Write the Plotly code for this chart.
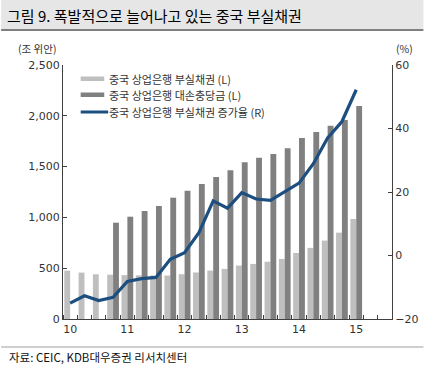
import plotly.graph_objects as go

# ---- data ----
quarters = ["10Q1","10Q2","10Q3","10Q4","11Q1","11Q2","11Q3","11Q4",
            "12Q1","12Q2","12Q3","12Q4","13Q1","13Q2","13Q3","13Q4",
            "14Q1","14Q2","14Q3","14Q4","15Q1"]
npl = [476, 457, 440, 436, 432, 430, 428, 428, 441, 458, 477, 493,
       526, 542, 564, 591, 650, 700, 772, 850, 984]
provisions = [None, None, None, 948, 1007, 1063, 1112, 1194, 1263, 1328,
              1397, 1463, 1542, 1587, 1624, 1680, 1781, 1840, 1902, 1958, 2096]
npl_growth = [-15.0, -12.7, -14.2, -13.2, -8.2, -7.3, -6.9, -1.2, 0.9, 7.2,
              17.2, 14.9, 19.8, 17.8, 17.4, 20.0, 22.8, 28.9, 37.0, 42.2, 52.2]
tick_labels = ["10", "11", "12", "13", "14", "15"]
tick_positions = [0, 4, 8, 12, 16, 20]

names = ["중국 상업은행 부실채권 (L)", "중국 상업은행 대손충당금 (L)",
         "중국 상업은행 부실채권 증가율 (R)"]

W, H = 430, 369
L, R, T, B = 63, 32, 65, 50
PW, PH = W - L - R, H - T - B

def px(x):
    return (x - L) / PW

def py(y):
    return (H - B - y) / PH

KR = "Noto Sans CJK KR"
NUM = "DejaVu Sans"
xs = list(range(len(quarters)))

fig = go.Figure()
fig.add_trace(go.Bar(x=xs, y=npl, name=names[0], marker_color="#BFBFBF",
                     marker_line_width=0, showlegend=False))
fig.add_trace(go.Bar(x=xs, y=provisions, name=names[1], marker_color="#808080",
                     marker_line_width=0, showlegend=False))
fig.add_trace(go.Scatter(x=xs, y=npl_growth, name=names[2], yaxis="y2",
                         mode="lines", line=dict(color="#1C4E80", width=3.2),
                         showlegend=False))

axis_common = dict(showline=True, linecolor="#404040", linewidth=1,
                   ticks="inside", ticklen=4, tickcolor="#404040",
                   showgrid=False, zeroline=False,
                   tickfont=dict(family=NUM, size=11, color="#333333"))

fig.update_layout(
    width=W, height=H,
    margin=dict(l=L, r=R, t=T, b=B),
    paper_bgcolor="white", plot_bgcolor="white",
    barmode="group", bargap=0.18, bargroupgap=0,
    showlegend=False,
    xaxis=dict(range=[-0.5, len(quarters) + 1.5], tickmode="array",
               tickvals=tick_positions, ticktext=tick_labels,
               showline=True, linecolor="#404040", ticks="",
               showgrid=False, zeroline=False,
               tickfont=dict(family=NUM, size=11, color="#333333"),
               minor=dict(tick0=0.5, dtick=1, ticks="inside", ticklen=4,
                          tickcolor="#404040", showgrid=False)),
    yaxis=dict(range=[0, 2500], dtick=500, tickformat=",", **axis_common),
    yaxis2=dict(range=[-20, 60], dtick=20, overlaying="y", side="right",
                **axis_common),
)

shapes = []
# title band and rule
shapes.append(dict(type="rect", xref="paper", yref="paper", x0=px(0), x1=px(W),
                   y0=py(29), y1=py(0), fillcolor="#E6E6E6", line_width=0,
                   layer="below"))
shapes.append(dict(type="line", xref="paper", yref="paper", x0=px(0), x1=px(W),
                   y0=py(30), y1=py(30), line=dict(color="#7F7F7F", width=2)))
# bottom rule
shapes.append(dict(type="line", xref="paper", yref="paper", x0=px(0), x1=px(W),
                   y0=py(347), y1=py(347), line=dict(color="#BFBFBF", width=1.5)))
# legend swatches
shapes.append(dict(type="rect", xref="paper", yref="paper", x0=px(81), x1=px(105),
                   y0=py(81), y1=py(76.5), fillcolor="#BFBFBF", line_width=0))
shapes.append(dict(type="rect", xref="paper", yref="paper", x0=px(81), x1=px(105),
                   y0=py(97), y1=py(92.5), fillcolor="#808080", line_width=0))
shapes.append(dict(type="line", xref="paper", yref="paper", x0=px(81), x1=px(109),
                   y0=py(112), y1=py(112), line=dict(color="#1C4E80", width=3)))
fig.update_layout(shapes=shapes)

ann = []
ann.append(dict(text="그림 9. 폭발적으로 늘어나고 있는 중국 부실채권", x=px(4), y=py(16),
                xanchor="left", yanchor="middle",
                font=dict(family=KR, size=15, color="#000000")))
ann.append(dict(text="(조 위안)", x=px(15), y=py(49), xanchor="left", yanchor="middle",
                font=dict(family=KR, size=10.5, color="#333333")))
ann.append(dict(text="(%)", x=px(400), y=py(49), xanchor="left", yanchor="middle",
                font=dict(family=KR, size=10.5, color="#333333")))
for i, (t, yy) in enumerate(zip(names, [78.5, 94.5, 112])):
    ann.append(dict(text=t, x=px(108), y=py(yy), xanchor="left", yanchor="middle",
                    font=dict(family=KR, size=11, color="#333333")))
ann.append(dict(text="자료: CEIC, KDB대우증권 리서치센터", x=px(6), y=py(357),
                xanchor="left", yanchor="middle",
                font=dict(family=KR, size=11.5, color="#111111")))
for a in ann:
    a.update(xref="paper", yref="paper", showarrow=False)
fig.update_layout(annotations=ann)

fig.write_html("out.html", config={"displayModeBar": False},
               post_script="document.body.style.margin='0';document.body.style.overflow='hidden';")
